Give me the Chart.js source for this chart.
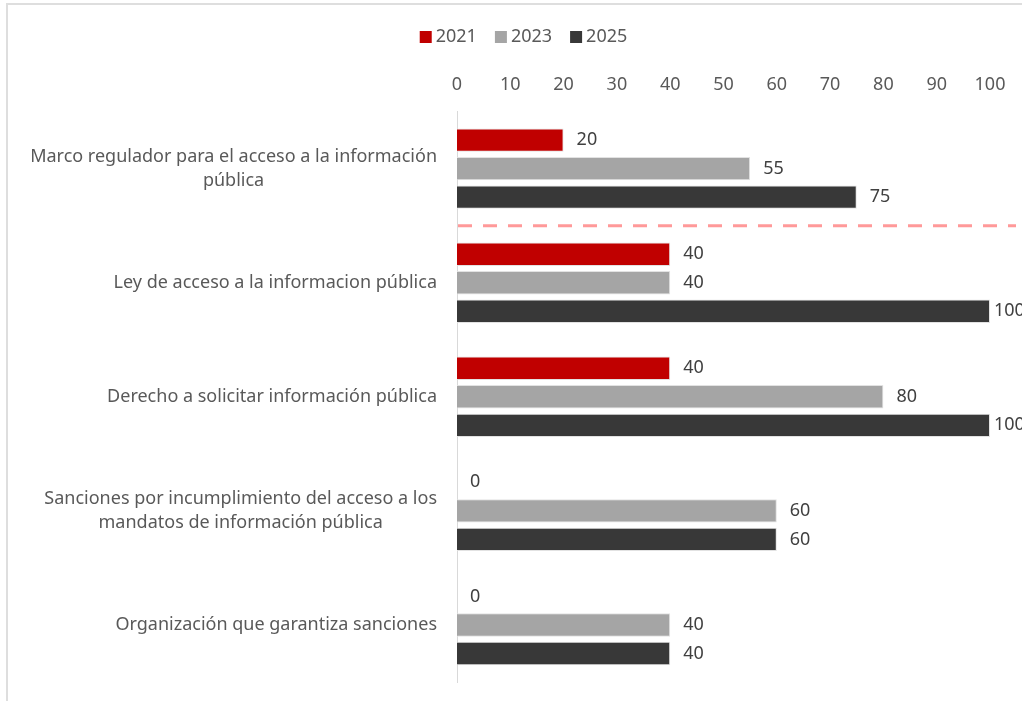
<!DOCTYPE html>
<html>
<head>
<meta charset="utf-8">
<script src="https://cdn.jsdelivr.net/npm/chart.js@4/dist/chart.umd.min.js"></script>
<style>
  html, body { margin: 0; padding: 0; background: #fff; overflow: hidden; }
  #wrap { position: relative; width: 1022px; height: 707px; }
  #frame { position: absolute; left: 6px; top: 3px; width: 1030px; height: 698px;
           border-top: 2px solid #dedede; border-left: 2px solid #dedede; box-sizing: border-box; }
  canvas { position: absolute; left: 0; top: 0; }
</style>
</head>
<body>
<div id="wrap">
  <div id="frame"></div>
  <canvas id="chart" width="1022" height="707"></canvas>
</div>
<script>
// Categories (multi-line labels as arrays)
var categories = [
  ['Marco regulador para el acceso a la información', 'pública'],
  ['Ley de acceso a la informacion pública'],
  ['Derecho a solicitar información pública'],
  ['Sanciones por incumplimiento del acceso a los', 'mandatos de información pública'],
  ['Organización que garantiza sanciones']
];
var seriesNames = ['2021', '2023', '2025'];
var values2021 = [20, 40, 40, 0, 0];
var values2023 = [55, 40, 80, 60, 40];
var values2025 = [75, 100, 100, 60, 40];
var xTicks = [0, 10, 20, 30, 40, 50, 60, 70, 80, 90, 100];

var colors = ['#c00000', '#a5a5a5', '#383838'];
var FONT = '"Noto Sans", sans-serif';
var FSIZE = 18;

// Category labels, legend, divider and value labels
var decorPlugin = {
  id: 'decor',
  afterDraw: function(chart) {
    var ctx = chart.ctx;
    var area = chart.chartArea;
    var y = chart.scales.y;
    ctx.save();

    // dashed divider between first and second category
    var yDiv = (y.getPixelForValue(0) + y.getPixelForValue(1)) / 2;
    ctx.strokeStyle = '#ff9999';
    ctx.lineWidth = 3;
    ctx.setLineDash([14, 11]);
    ctx.beginPath();
    ctx.moveTo(area.left + 1, yDiv);
    ctx.lineTo(1016, yDiv);
    ctx.stroke();
    ctx.setLineDash([]);

    // category labels: block right-aligned, lines centered
    ctx.font = FSIZE + 'px ' + FONT;
    ctx.fillStyle = '#595959';
    ctx.textAlign = 'center';
    ctx.textBaseline = 'middle';
    categories.forEach(function(lines, i) {
      var maxW = 0;
      lines.forEach(function(l) { maxW = Math.max(maxW, ctx.measureText(l).width); });
      var cx = 437 - maxW / 2;
      var cy = y.getPixelForValue(i);
      var lh = 24;
      lines.forEach(function(l, j) {
        ctx.fillText(l, cx, cy + (j - (lines.length - 1) / 2) * lh);
      });
    });

    // value labels
    ctx.fillStyle = '#404040';
    ctx.textAlign = 'left';
    chart.data.datasets.forEach(function(ds, di) {
      var meta = chart.getDatasetMeta(di);
      meta.data.forEach(function(bar, i) {
        var x = Math.min(bar.x + 13, area.right + 4);
        ctx.fillText(String(ds.data[i]), x, bar.y);
      });
    });

    // legend
    var box = 12, gapText = 4, gapItem = 18;
    var widths = seriesNames.map(function(n) { return box + gapText + ctx.measureText(n).width; });
    var total = widths.reduce(function(a, b) { return a + b; }, 0) + gapItem * (seriesNames.length - 1);
    var lx = 523.5 - total / 2;
    var ly = 37;
    seriesNames.forEach(function(n, i) {
      ctx.fillStyle = colors[i];
      ctx.fillRect(lx, ly - box / 2, box, box);
      ctx.fillStyle = '#595959';
      ctx.fillText(n, lx + box + gapText, ly);
      lx += widths[i] + gapItem;
    });

    ctx.restore();
  }
};

var ctx = document.getElementById('chart').getContext('2d');
new Chart(ctx, {
  type: 'bar',
  data: {
    labels: categories,
    datasets: [
      { label: seriesNames[0], data: values2021, backgroundColor: colors[0] },
      { label: seriesNames[1], data: values2023, backgroundColor: colors[1] },
      { label: seriesNames[2], data: values2025, backgroundColor: colors[2] }
    ].map(function(d) {
      d.borderColor = '#e2e2e2';
      d.borderWidth = 1;
      d.categoryPercentage = 0.75;
      d.barPercentage = 0.82;
      return d;
    })
  },
  options: {
    indexAxis: 'y',
    responsive: false,
    animation: false,
    layout: { padding: { left: 457, right: 32, top: 58, bottom: 25 } },
    plugins: { legend: { display: false }, tooltip: { enabled: false } },
    scales: {
      x: {
        position: 'top',
        min: 0,
        max: 100,
        afterBuildTicks: function(scale) {
          scale.ticks = xTicks.map(function(v) { return { value: v }; });
        },
        grid: { display: false, drawTicks: false },
        border: { display: false },
        ticks: { color: '#595959', font: { size: FSIZE, family: FONT }, padding: 16, maxRotation: 0 }
      },
      y: {
        grid: { display: false, drawTicks: false },
        border: { display: true, color: '#d9d9d9', width: 1 },
        ticks: { display: false }
      }
    }
  },
  plugins: [decorPlugin]
});
</script>
</body>
</html>
